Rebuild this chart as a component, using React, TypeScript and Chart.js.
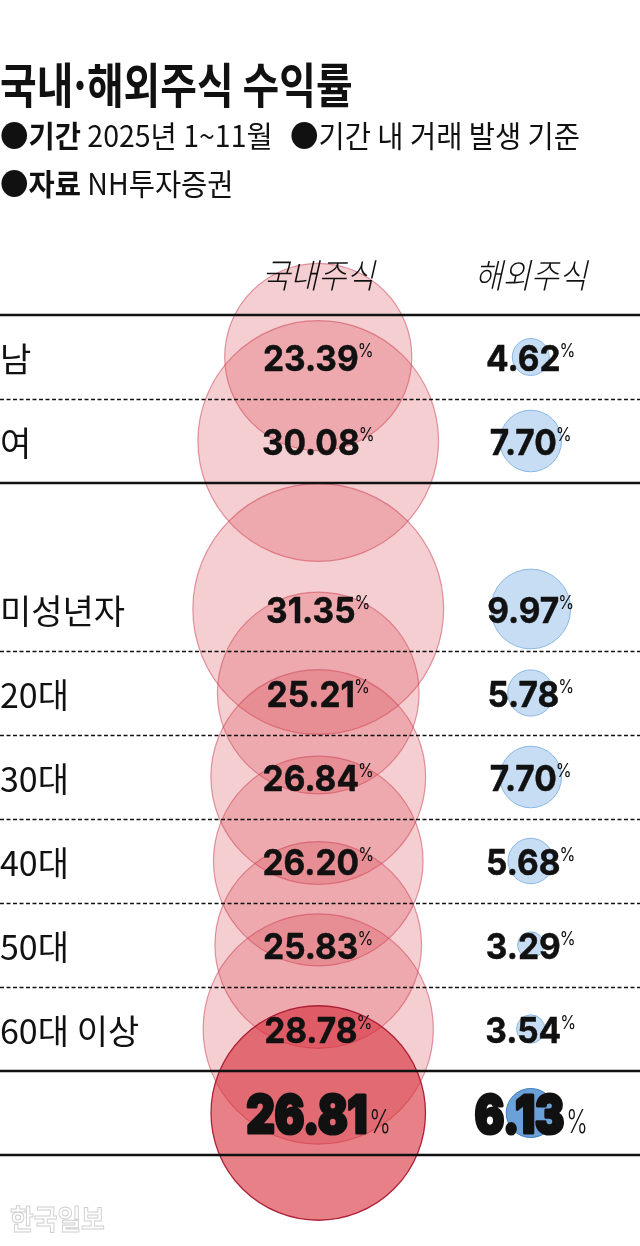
import React, { useEffect, useRef } from 'react';
import { Chart, registerables } from 'chart.js';

Chart.register(...registerables);

// ---------- data ----------
const markets = ['국내주식', '해외주식'];
const rows = ['남', '여', '', '미성년자', '20대', '30대', '40대', '50대', '60대 이상', '전체'];
const groups = ['남', '여', '미성년자', '20대', '30대', '40대', '50대', '60대 이상'];
const domestic = [23.39, 30.08, 31.35, 25.21, 26.84, 26.2, 25.83, 28.78];
const overseas = [4.62, 7.7, 9.97, 5.78, 7.7, 5.68, 3.29, 3.54];
const totalLabel = '전체';
const totalDomestic = 26.81;
const totalOverseas = 6.13;

// ---------- style ----------
const PX_PER_POINT = 4; // bubble radius in px per percentage point
const KR = "'Noto Sans CJK KR', 'Noto Sans', sans-serif";
const NUM = "Inter, 'Noto Sans', sans-serif";
// separator style for each row boundary (0 = top of first row)
const BOUNDARY = ['solid', 'dash', 'solid', 'none', 'dash', 'dash', 'dash', 'dash', 'dash', 'solid', 'solid'];

function drawText(
  ctx: CanvasRenderingContext2D,
  text: string,
  x: number,
  y: number,
  font: string,
  align: 'left' | 'center' | 'right',
  sx: number,
  baseline: CanvasTextBaseline = 'alphabetic',
  color = '#111',
  strokeW = 0
) {
  ctx.save();
  ctx.font = font;
  ctx.fillStyle = color;
  ctx.textBaseline = baseline;
  ctx.textAlign = 'left';
  const w = ctx.measureText(text).width * sx;
  const x0 = align === 'center' ? x - w / 2 : align === 'right' ? x - w : x;
  ctx.translate(x0, y);
  ctx.scale(sx, 1);
  ctx.fillText(text, 0, 0);
  if (strokeW > 0) {
    ctx.strokeStyle = color;
    ctx.lineWidth = strokeW;
    ctx.lineJoin = 'round';
    ctx.strokeText(text, 0, 0);
  }
  ctx.restore();
  return w;
}

function measure(ctx: CanvasRenderingContext2D, text: string, font: string, sx: number) {
  ctx.save();
  ctx.font = font;
  const w = ctx.measureText(text).width * sx;
  ctx.restore();
  return w;
}

const tablePlugin = {
  id: 'tableDecor',
  afterDatasetsDraw(chart: any) {
    const ctx: CanvasRenderingContext2D = chart.ctx;
    const xs = chart.scales.x;
    const ys = chart.scales.y;
    const h = ys.getPixelForValue(1) - ys.getPixelForValue(0);
    const y0 = ys.getPixelForValue(0) - h / 2;

    // separators
    BOUNDARY.forEach((s, k) => {
      if (s === 'none') return;
      const yy = Math.round(y0 + k * h);
      ctx.save();
      ctx.strokeStyle = '#111';
      if (s === 'solid') {
        ctx.lineWidth = 2.6;
        ctx.setLineDash([]);
      } else {
        ctx.lineWidth = 1.3;
        ctx.setLineDash([4, 2.5]);
      }
      ctx.beginPath();
      ctx.moveTo(0, yy + (s === 'dash' ? 0.5 : 0));
      ctx.lineTo(chart.width, yy + (s === 'dash' ? 0.5 : 0));
      ctx.stroke();
      ctx.restore();
    });

    // column headers
    markets.forEach((m, i) => {
      drawText(ctx, m, xs.getPixelForValue(i), chart.chartArea.top - 40, `italic 300 34px ${KR}`, 'center', 0.9, 'middle');
    });

    // row labels
    groups.forEach((g) => {
      const idx = rows.indexOf(g);
      drawText(ctx, g, 0, ys.getPixelForValue(idx) + 2, `400 34px ${KR}`, 'left', 1.0, 'middle');
    });

    // value labels
    const drawValue = (v: number, cx: number, cy: number, total: boolean) => {
      const txt = v.toFixed(2);
      if (total) {
        const nf = `900 52px ${NUM}`;
        const pf = `300 32px ${NUM}`;
        const nsx = 0.84, psx = 0.72;
        const wn = measure(ctx, txt, nf, nsx) + 2;
        const wp = measure(ctx, '%', pf, psx);
        const start = cx - (wn + 1 + wp) / 2;
        const base = cy + 20;
        drawText(ctx, txt, start + 1, base, nf, 'left', nsx, 'alphabetic', '#111', 3.2);
        drawText(ctx, '%', start + wn + 1, base, pf, 'left', psx);
      } else {
        const nf = `700 36px ${NUM}`;
        const pf = `400 18px ${NUM}`;
        const nsx = 0.93, psx = 0.9;
        const wn = measure(ctx, txt, nf, nsx);
        const wp = measure(ctx, '%', pf, psx);
        const start = cx - (wn - 1 + wp) / 2;
        drawText(ctx, txt, start, cy + 14, nf, 'left', nsx, 'alphabetic', '#111', 0.5);
        drawText(ctx, '%', start + wn - 1, cy, pf, 'left', psx);
      }
    };
    groups.forEach((g, i) => {
      const cy = ys.getPixelForValue(rows.indexOf(g));
      drawValue(domestic[i], xs.getPixelForValue(0), cy, false);
      drawValue(overseas[i], xs.getPixelForValue(1), cy, false);
    });
    const ty = ys.getPixelForValue(rows.indexOf(totalLabel));
    drawValue(totalDomestic, xs.getPixelForValue(0), ty, true);
    drawValue(totalOverseas, xs.getPixelForValue(1), ty, true);
  },
};

export default function App() {
  const ref = useRef<HTMLCanvasElement | null>(null);

  useEffect(() => {
    if (!ref.current) return;
    const chart = new Chart(ref.current, {
      type: 'bubble',
      data: {
        datasets: [
          {
            label: '전체 국내주식',
            data: [{ x: markets[0], y: totalLabel, r: totalDomestic * PX_PER_POINT }] as any,
            backgroundColor: 'rgba(214,36,48,0.58)',
            borderColor: 'rgba(170,25,50,0.95)',
            borderWidth: 1.3,
            clip: false as any,
          },
          {
            label: '전체 해외주식',
            data: [{ x: markets[1], y: totalLabel, r: totalOverseas * PX_PER_POINT }] as any,
            backgroundColor: 'rgba(80,145,210,0.85)',
            borderColor: 'rgba(60,125,195,1)',
            borderWidth: 1,
            clip: false as any,
          },
          {
            label: '국내주식',
            data: groups.map((g, i) => ({ x: markets[0], y: g, r: domestic[i] * PX_PER_POINT })) as any,
            backgroundColor: 'rgba(215,60,72,0.25)',
            borderColor: 'rgba(200,55,75,0.5)',
            borderWidth: 1.2,
            clip: false as any,
          },
          {
            label: '해외주식',
            data: groups.map((g, i) => ({ x: markets[1], y: g, r: overseas[i] * PX_PER_POINT })) as any,
            backgroundColor: 'rgba(100,160,222,0.36)',
            borderColor: 'rgba(110,165,222,0.75)',
            borderWidth: 1,
            clip: false as any,
          },
        ],
      },
      options: {
        animation: false,
        responsive: true,
        maintainAspectRatio: false,
        events: [],
        layout: { autoPadding: false, padding: { top: 315, bottom: 91, left: 212, right: 3 } },
        plugins: { legend: { display: false }, tooltip: { enabled: false }, title: { display: false } },
        scales: {
          x: { type: 'category', labels: markets, offset: true, display: false },
          y: { type: 'category', labels: rows, offset: true, display: false },
        },
      },
      plugins: [tablePlugin],
    });
    return () => chart.destroy();
  }, []);

  const line = (top: number, left: number, size: number, sx: number): React.CSSProperties => ({
    position: 'absolute',
    top,
    left,
    fontFamily: KR,
    fontSize: size,
    lineHeight: `${size}px`,
    whiteSpace: 'nowrap',
    color: '#111',
    transform: `scaleX(${sx})`,
    transformOrigin: 'left center',
  });

  return (
    <div style={{ position: 'absolute', left: 0, top: 0, width: 640, height: 1246, background: '#fff', overflow: 'hidden' }}>
      <canvas ref={ref} style={{ position: 'absolute', left: 0, top: 0 }} />
      <div style={{ ...line(58, 0, 48, 0.83), fontWeight: 700 }}>
        국내<span style={{ margin: '0 -6px' }}>·</span>해외주식 수익률
      </div>
      <div style={line(119, 0, 30, 0.95)}>
        <b>●기간</b> 2025년 1~11월
      </div>
      <div style={line(119, 290, 30, 0.95)}>●기간 내 거래 발생 기준</div>
      <div style={line(167, 0, 30, 0.95)}>
        <b>●자료</b> NH투자증권
      </div>
      <div
        style={{
          ...line(1204, 10, 28, 0.92),
          fontWeight: 700,
          color: '#fff',
          WebkitTextStroke: '1px #cfcfcf',
        }}
      >
        한국일보
      </div>
    </div>
  );
}
